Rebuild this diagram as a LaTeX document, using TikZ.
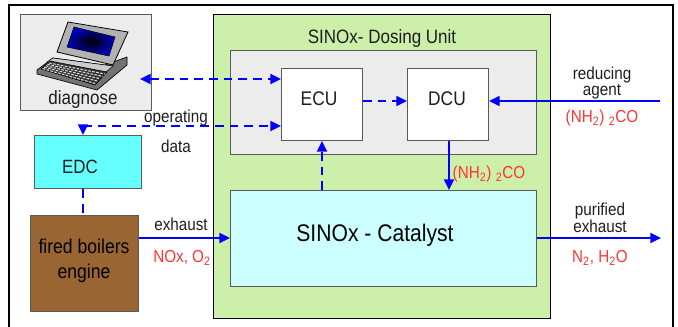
\documentclass[tikz,border=0pt]{standalone}
\usepackage{fontspec}
\setmainfont[FakeStretch=0.88]{Liberation Sans}
\usetikzlibrary{arrows.meta}
\definecolor{FrameGreen}{RGB}{204, 240, 170}
\definecolor{PanelGray}{RGB}{236, 236, 236}
\definecolor{EdcCyan}{RGB}{102, 255, 255}
\definecolor{CatCyan}{RGB}{204, 255, 255}
\definecolor{BoilerBrown}{RGB}{153, 102, 51}
\definecolor{LabelRed}{RGB}{255, 51, 51}
\definecolor{TextGray}{RGB}{30, 30, 30}
\definecolor{EdgeGray}{RGB}{90, 90, 90}
\newcommand{\sizedfont}[1]{\fontsize{#1}{#1}\selectfont}
\tikzset{
  unitbox/.style={draw=EdgeGray, line width=0.8pt, inner sep=0pt, anchor=north west},
  flow/.style={blue, line width=1.5pt, -{Triangle[length=8pt,width=7.5pt]}},
  ctrl/.style={flow, dash pattern=on 6.5pt off 4.5pt},
  txt/.style={text=TextGray, inner sep=0pt, align=center, font=\sizedfont{13}},
  redtxt/.style={text=LabelRed, inner sep=0pt, align=center, font=\sizedfont{13}}
}
\begin{document}
\begin{tikzpicture}[x=0.75pt, y=-0.75pt]
  \useasboundingbox (0, 0) rectangle (678, 326);
  % Outer frame
  \fill[white] (0, 0) rectangle (678, 326);
  \draw[black, line width=1.3pt] (9, 330) -- (9, 5) -- (673, 5) -- (673, 330);

  % Boxes
  \node[unitbox, draw=black, fill=FrameGreen, minimum width=252.75pt, minimum height=228pt] (dosing) at (213, 14) {};
  \node[unitbox, fill=PanelGray, minimum width=229.5pt, minimum height=78pt] (panel) at (230, 50) {};
  \node[unitbox, fill=white, minimum width=60.75pt, minimum height=54pt] (ecu) at (281, 68) {};
  \node[unitbox, fill=white, minimum width=60.75pt, minimum height=54pt] (dcu) at (407, 68) {};
  \node[unitbox, fill=CatCyan, minimum width=229.5pt, minimum height=72pt] (catalyst) at (230, 190) {};
  \node[unitbox, fill=PanelGray, minimum width=98.25pt, minimum height=72pt] (diagnosebox) at (20, 14) {};
  \node[unitbox, fill=EdcCyan, minimum width=80.25pt, minimum height=40pt] (edc) at (34, 135) {};
  \node[unitbox, fill=BoilerBrown, minimum width=81pt, minimum height=72pt] (boiler) at (30, 215) {};

  % Laptop
  \draw[black, fill=black!55, line width=0.5pt] (37, 70) -- (53, 58) -- (105, 65) -- (127, 57) -- (127, 65) -- (97, 90) -- (37, 74) -- cycle;
  \draw[black, fill=black!20, line width=0.4pt] (53, 58) -- (113, 66) -- (105, 73) -- (47, 62) -- cycle;
  \draw[black, fill=black!80, line width=0.4pt] (41, 69) -- (50, 61) -- (107, 72) -- (95, 85) -- cycle;
  \foreach \i in {0, ..., 4} {
    \draw[black!15, line width=0.8pt, dash pattern=on 2pt off 1pt] (49 - 1.6 * \i, 63 + 1.4 * \i) -- (105 - 2.4 * \i, 74 + 2.4 * \i);
  }
  \draw[black, fill=black!30, line width=0.6pt] (68, 22) -- (128, 32) -- (113, 65) -- (57, 52) -- cycle;
  \shade[inner color=black, outer color=blue!75!black, draw=black, line width=0.4pt] (74, 27) -- (115, 37) -- (109, 56) -- (67, 47) -- cycle;

  % Texts
  \node[txt, font=\sizedfont{14.5}] (diagnosetxt) at (83, 99) {diagnose};
  \node[txt, font=\sizedfont{14.5}] (dosingtxt) at (382, 38) {SINOx- Dosing Unit};
  \node[txt, font=\sizedfont{14.8}] (ecutxt) at (319, 99) {ECU};
  \node[txt, font=\sizedfont{14.8}] (dcutxt) at (447, 99) {DCU};
  \node[txt, text=black, font=\sizedfont{18}] (catalysttxt) at (375, 235) {SINOx - Catalyst};
  \node[txt, font=\sizedfont{14.4}] (edctxt) at (80, 167) {EDC};
  \node[txt, text=black, font=\fontsize{15}{19}\selectfont] (boilertxt) at (84, 261) {fired boilers\\engine};
  \node[txt] (operatingtxt) at (176, 118) {operating};
  \node[txt] (datatxt) at (176, 146) {data};
  \node[txt] (exhausttxt) at (181, 224) {exhaust};
  \node[redtxt] (noxtxt) at (182, 258) {NOx, O\textsubscript{2}};
  \node[txt, font=\fontsize{13}{12.5}\selectfont] (reducingtxt) at (602, 83) {reducing\\agent};
  \node[redtxt] (ureatxt) at (602, 118) {(NH\textsubscript{2}) \textsubscript{2}CO};
  \node[redtxt] (ureainnertxt) at (489, 174) {(NH\textsubscript{2}) \textsubscript{2}CO};
  \node[txt, font=\fontsize{13}{12.5}\selectfont] (purifiedtxt) at (600, 218) {purified\\exhaust};
  \node[redtxt] (n2txt) at (600, 258) {N\textsubscript{2}, H\textsubscript{2}O};

  % Free ends
  \coordinate (lapend) at (140, 79);
  \coordinate (opbend) at (83, 126);
  \coordinate (agentin) at (660, 101);
  \coordinate (exhaustout) at (661, 238);

  % Connectors
  \draw[ctrl, {Triangle[length=8pt,width=7.5pt]}-{Triangle[length=8pt,width=7.5pt]}] (lapend) -- (lapend -| ecu.west);
  \draw[ctrl] (opbend) -- (opbend -| ecu.west);
  \draw[flow] (opbend) -- (opbend |- edc.north);
  \draw[ctrl] (ecu.east |- agentin) -- (dcu.west |- agentin);
  \draw[ctrl] (322, 0 |- catalyst.north) -- (322, 0 |- ecu.south);
  \draw[blue, line width=1.5pt, dash pattern=on 6.5pt off 4.5pt] (opbend |- edc.south) -- (opbend |- boiler.north);
  \draw[flow] (449, 0 |- dcu.south) -- (449, 0 |- catalyst.north);
  \draw[flow] (agentin) -- (agentin -| dcu.east);
  \draw[flow] (boiler.east |- exhaustout) -- (catalyst.west |- exhaustout);
  \draw[flow] (catalyst.east |- exhaustout) -- (exhaustout);
\end{tikzpicture}
\end{document}
